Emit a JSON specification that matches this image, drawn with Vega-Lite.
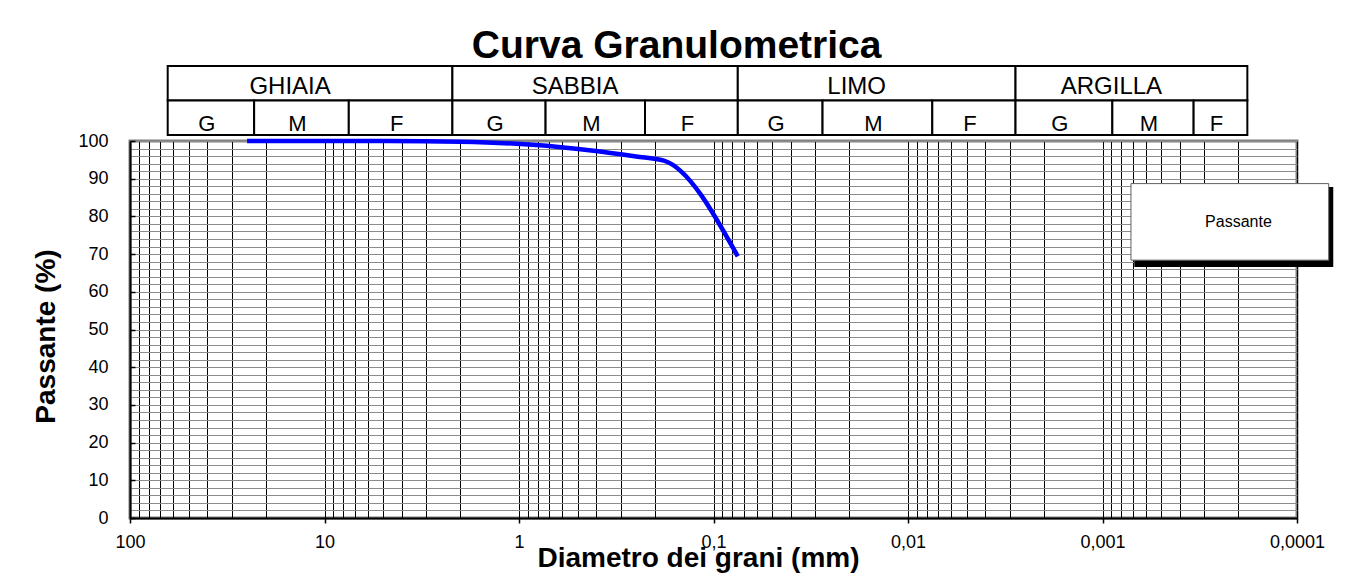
{
  "$schema": "https://vega.github.io/schema/vega-lite/v6.json",
  "background": "white",
  "padding": {"left": 30, "top": 27, "right": 5, "bottom": 5},
  "config": {
    "font": "Liberation Sans",
    "view": {"stroke": null},
    "text": {"color": "black"}
  },
  "title": {
    "text": "Curva Granulometrica",
    "fontSize": 39,
    "fontWeight": "bold",
    "font": "Liberation Sans",
    "color": "black",
    "anchor": "middle",
    "baseline": "alphabetic",
    "offset": -32,
    "dx": -6
  },
  "bounds": "flush",
  "spacing": 6,
  "vconcat": [
    {
      "width": 1167,
      "height": 69,
      "data": {
        "values": [
          {"row": "class", "name": "GHIAIA", "from": 64, "to": 2.2},
          {"row": "class", "name": "SABBIA", "from": 2.2, "to": 0.075},
          {"row": "class", "name": "LIMO", "from": 0.075, "to": 0.0028},
          {"row": "class", "name": "ARGILLA", "from": 0.0028, "to": 0.00018},
          {"row": "sub", "name": "G", "from": 64, "to": 23},
          {"row": "sub", "name": "M", "from": 23, "to": 7.5},
          {"row": "sub", "name": "F", "from": 7.5, "to": 2.2},
          {"row": "sub", "name": "G", "from": 2.2, "to": 0.73},
          {"row": "sub", "name": "M", "from": 0.73, "to": 0.225},
          {"row": "sub", "name": "F", "from": 0.225, "to": 0.075},
          {"row": "sub", "name": "G", "from": 0.075, "to": 0.0275},
          {"row": "sub", "name": "M", "from": 0.0275, "to": 0.0075},
          {"row": "sub", "name": "F", "from": 0.0075, "to": 0.0028},
          {"row": "sub", "name": "G", "from": 0.0028, "to": 0.00089},
          {"row": "sub", "name": "M", "from": 0.00089, "to": 0.00034},
          {"row": "sub", "name": "F", "from": 0.00034, "to": 0.00018}
        ]
      },
      "layer": [
        {
          "mark": {"type": "rect", "fill": "white", "stroke": "black", "strokeWidth": 2},
          "encoding": {
            "x": {"field": "from", "type": "quantitative", "scale": {"type": "log", "domain": [0.0001, 100], "reverse": true, "nice": false}, "axis": null},
            "x2": {"field": "to"},
            "y": {"field": "row", "type": "nominal", "scale": {"domain": ["class", "sub"], "paddingInner": 0, "paddingOuter": 0}, "axis": null}
          }
        },
        {
          "transform": [{"filter": "datum.row == 'class'"}, {"calculate": "sqrt(datum.from * datum.to)", "as": "mid"}],
          "mark": {"type": "text", "fontSize": 24, "baseline": "alphabetic", "align": "center", "dy": 11, "dx": -20, "color": "black"},
          "encoding": {
            "x": {"field": "mid", "type": "quantitative", "scale": {"type": "log", "domain": [0.0001, 100], "reverse": true, "nice": false}, "axis": null},
            "y": {"field": "row", "type": "nominal", "axis": null},
            "text": {"field": "name"}
          }
        },
        {
          "transform": [{"filter": "datum.row == 'sub'"}, {"calculate": "sqrt(datum.from * datum.to)", "as": "mid"}],
          "mark": {"type": "text", "fontSize": 22, "baseline": "alphabetic", "align": "center", "dy": 13, "dx": -4, "color": "black"},
          "encoding": {
            "x": {"field": "mid", "type": "quantitative", "scale": {"type": "log", "domain": [0.0001, 100], "reverse": true, "nice": false}, "axis": null},
            "y": {"field": "row", "type": "nominal", "axis": null},
            "text": {"field": "name"}
          }
        }
      ]
    },
    {
      "width": 1167,
      "height": 377,
      "view": {"stroke": "#808080", "strokeWidth": 3},
      "layer": [
        {
          "data": {
            "values": [
              {"d": 25, "p": 100},
              {"d": 19, "p": 100},
              {"d": 12.5, "p": 100},
              {"d": 9.5, "p": 100},
              {"d": 4.75, "p": 100},
              {"d": 2, "p": 99.8},
              {"d": 0.85, "p": 99.0},
              {"d": 0.425, "p": 97.5},
              {"d": 0.25, "p": 95.9},
              {"d": 0.18, "p": 94.8},
              {"d": 0.075, "p": 69.4}
            ]
          },
          "mark": {"type": "line", "color": "#0000ff", "strokeWidth": 4.5, "interpolate": "monotone"},
          "encoding": {
            "x": {
              "field": "d",
              "type": "quantitative",
              "title": "Diametro dei grani (mm)",
              "scale": {"type": "log", "domain": [0.0001, 100], "reverse": true, "nice": false},
              "axis": {
                "values": [100, 90, 80, 70, 60, 50, 40, 30, 20, 10, 9, 8, 7, 6, 5, 4, 3, 2, 1, 0.9, 0.8, 0.7, 0.6, 0.5, 0.4, 0.3, 0.2, 0.1, 0.09, 0.08, 0.07, 0.06, 0.05, 0.04, 0.03, 0.02, 0.01, 0.009, 0.008, 0.007, 0.006, 0.005, 0.004, 0.003, 0.002, 0.001, 0.0009, 0.0008, 0.0007, 0.0006, 0.0005, 0.0004, 0.0003, 0.0002, 0.0001],
                "tickCount": 500,
                "labelExpr": "indexof([100, 10, 1, 0.1, 0.01, 0.001, 0.0001], datum.value) >= 0 ? replace(toString(datum.value), '.', ',') : ''",
                "labelFontSize": 18,
                "labelColor": "black",
                "labelPadding": 10,
                "labelOverlap": false,
                "labelFlush": false,
                "labelBound": false,
                "tickSize": 5,
                "tickColor": "black",
                "tickWidth": 1.5,
                "tickOpacity": {"condition": {"test": "indexof([100, 10, 1, 0.1, 0.01, 0.001, 0.0001], datum.value) >= 0", "value": 1}, "value": 0},
                "domainColor": "black",
                "domainWidth": 2,
                "grid": true,
                "gridColor": "black",
                "gridWidth": 1,
                "gridOpacity": 1,
                "titleFontSize": 28,
                "titleFontWeight": "bold",
                "titleColor": "black",
                "titleX": 568,
                "titleY": 48,
                "titleAlign": "center",
                "titleBaseline": "alphabetic"
              }
            },
            "y": {
              "field": "p",
              "type": "quantitative",
              "title": "Passante (%)",
              "scale": {"domain": [0, 100], "nice": false},
              "axis": {
                "values": [0, 2, 4, 6, 8, 10, 12, 14, 16, 18, 20, 22, 24, 26, 28, 30, 32, 34, 36, 38, 40, 42, 44, 46, 48, 50, 52, 54, 56, 58, 60, 62, 64, 66, 68, 70, 72, 74, 76, 78, 80, 82, 84, 86, 88, 90, 92, 94, 96, 98, 100],
                "tickCount": 500,
                "labelExpr": "datum.value % 10 == 0 ? toString(datum.value) : ''",
                "labelFontSize": 18,
                "labelColor": "black",
                "labelPadding": 27,
                "labelOverlap": false,
                "labelBound": false,
                "labelFlush": false,
                "tickSize": -5,
                "tickColor": "black",
                "tickWidth": 1.5,
                "tickOpacity": {"condition": {"test": "datum.value % 10 == 0", "value": 1}, "value": 0},
                "domainColor": "black",
                "domainWidth": 2,
                "grid": true,
                "gridColor": "#8c8c8c",
                "gridWidth": 1,
                "gridOpacity": 1,
                "titleFontSize": 28,
                "titleFontWeight": "bold",
                "titleColor": "black",
                "titleX": -76,
                "titleY": 195,
                "titleAngle": -90,
                "titleAlign": "center",
                "titleBaseline": "alphabetic"
              }
            }
          }
        },
        {
          "data": {"values": [{"label": "Passante"}]},
          "mark": {"type": "rect", "fill": "black", "stroke": null},
          "encoding": {
            "x": {"datum": 0.000686, "type": "quantitative"},
            "x2": {"datum": 0.0000651},
            "y": {"datum": 87.8, "type": "quantitative"},
            "y2": {"datum": 66.6}
          }
        },
        {
          "data": {"values": [{"label": "Passante"}]},
          "mark": {"type": "rect", "fill": "white", "stroke": "#606060", "strokeWidth": 1},
          "encoding": {
            "x": {"datum": 0.000714, "type": "quantitative"},
            "x2": {"datum": 0.0000687},
            "y": {"datum": 88.7, "type": "quantitative"},
            "y2": {"datum": 68.4}
          }
        },
        {
          "data": {"values": [{"label": "Passante"}]},
          "mark": {"type": "text", "fontSize": 16, "align": "center", "baseline": "middle", "color": "black"},
          "encoding": {
            "x": {"datum": 0.0002, "type": "quantitative"},
            "y": {"datum": 78.5, "type": "quantitative"},
            "text": {"field": "label"}
          }
        }
      ]
    }
  ]
}
